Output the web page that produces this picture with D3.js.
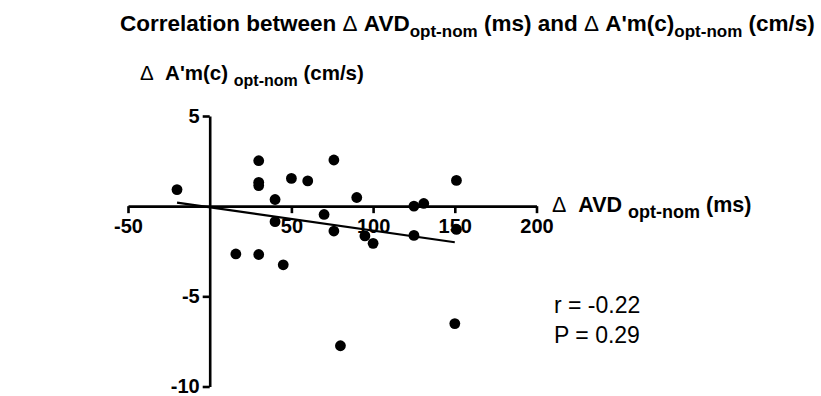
<!DOCTYPE html>
<html>
<head>
<meta charset="utf-8">
<script src="https://cdn.jsdelivr.net/npm/d3@7"></script>
<style>
  html, body { margin: 0; padding: 0; background: #fff; }
  svg { display: block; }
  text { font-family: "Liberation Sans", Arial, sans-serif; fill: #000; }
</style>
</head>
<body>
<svg id="chart" width="821" height="396"></svg>
<script>
// Paired differences: Δ AVD (ms) against Δ A'm(c) (cm/s)
const avdDelta = [-20, 30, 30, 30, 50, 60, 76, 40, 90, 70, 40, 76, 95, 100, 151, 125, 131, 151, 125, 16, 30, 45, 80, 150];
const amDelta  = [0.92, 2.52, 1.32, 1.14, 1.54, 1.40, 2.56, 0.37, 0.48, -0.46, -0.86, -1.38, -1.65, -2.06, 1.43, 0.0, 0.15, -1.29, -1.62, -2.65, -2.68, -3.25, -7.74, -6.51];

// Least-squares line, drawn across the range of the data
const fitX = [-20, 150];
const fitY = [0.2, -2.0];

const xTicks = [-50, 50, 100, 150, 200];
const yTicks = [5, -5, -10];

const stats = ["r = -0.22", "P = 0.29"];

const svg = d3.select("#chart");

const x = d3.scaleLinear().domain([-50, 200]).range([128, 536.5]);
const y = d3.scaleLinear().domain([-10, 5]).range([386.5, 116]);

// Axes cross at the origin; plain hyphen for negative labels
const fmt = d => String(d);
const xAxis = d3.axisBottom(x).tickValues(xTicks).tickFormat(fmt).tickSizeInner(7).tickSizeOuter(0).tickPadding(6);
const yAxis = d3.axisLeft(y).tickValues(yTicks).tickFormat(fmt).tickSizeInner(7).tickSizeOuter(0).tickPadding(3);

const gx = svg.append("g").attr("transform", `translate(0,${y(0)})`).call(xAxis);
const gy = svg.append("g").attr("transform", `translate(${x(0)},0)`).call(yAxis);

[gx, gy].forEach(g => {
  g.select(".domain").attr("stroke", "#000").attr("stroke-width", 2.6);
  g.selectAll(".tick line").attr("stroke", "#000").attr("stroke-width", 2.6);
  g.selectAll(".tick text")
    .attr("font-family", "'Liberation Sans', Arial, sans-serif")
    .attr("font-size", 20)
    .attr("font-weight", "bold")
    .attr("fill", "#000");
});
gy.selectAll(".tick text").attr("dy", "0.3em");

// Regression line
svg.append("line")
  .attr("x1", x(fitX[0])).attr("y1", y(fitY[0]))
  .attr("x2", x(fitX[1])).attr("y2", y(fitY[1]))
  .attr("stroke", "#000").attr("stroke-width", 2.2);

// Points
svg.append("g").selectAll("circle")
  .data(avdDelta.map((v, i) => [v, amDelta[i]]))
  .join("circle")
  .attr("cx", d => x(d[0]))
  .attr("cy", d => y(d[1]))
  .attr("r", 5.4)
  .attr("fill", "#000");

// Text helper: runs of [text, isSubscript, isSymbol]
function richText(xPos, yPos, size, subSize, shift, runs) {
  const t = svg.append("text")
    .attr("x", xPos).attr("y", yPos)
    .attr("font-size", size).attr("font-weight", "bold")
    .attr("xml:space", "preserve");
  let shifted = false;
  runs.forEach(([s, sub, sym]) => {
    const ts = t.append("tspan").text(s);
    if (sub && !shifted) { ts.attr("dy", shift).attr("font-size", subSize); shifted = true; }
    else if (!sub && shifted) { ts.attr("dy", -shift); shifted = false; }
    if (sym) ts.attr("font-weight", "normal");
  });
  return t;
}

// Title
richText(120, 31, 22.5, 17, 6, [
  ["Correlation between ", false],
  ["\u0394", false, true],
  [" AVD", false],
  ["opt-nom", true],
  [" (ms) and ", false],
  ["\u0394", false, true],
  [" A'm(c)", false],
  ["opt-nom", true],
  [" (cm/s)", false]
]);

// Y axis title
richText(140, 80, 20.5, 16, 6, [
  ["\u0394", false, true],
  ["  A'm(c) ", false],
  ["opt-nom", true],
  [" (cm/s)", false]
]);

// X axis title
richText(552, 212, 21.5, 18, 6, [
  ["\u0394", false, true],
  ["  AVD ", false],
  ["opt-nom", true],
  [" (ms)", false]
]);

// Correlation statistics
svg.append("g").selectAll("text")
  .data(stats)
  .join("text")
  .attr("x", 554)
  .attr("y", (d, i) => 313 + i * 30)
  .attr("font-size", 23)
  .text(d => d);
</script>
</body>
</html>
